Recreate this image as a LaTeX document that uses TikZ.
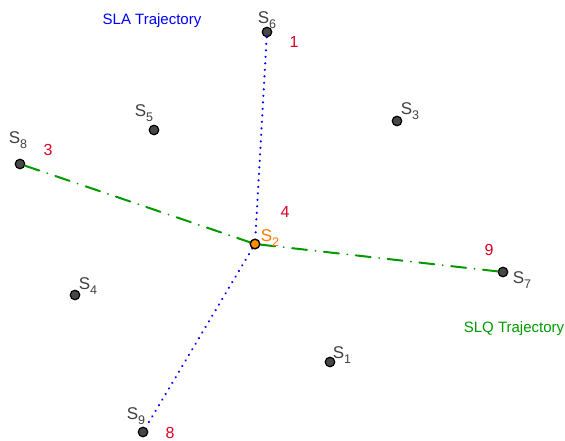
\documentclass[tikz,border=0pt]{standalone}
\usepackage{fontspec}
\setmainfont{Liberation Sans}
\newcommand{\st}[1]{S\raisebox{-0.55ex}{\fontsize{12.5}{13}\selectfont #1}}
\begin{document}
\begin{tikzpicture}[x=1pt,y=-1pt,
  station/.style={circle,draw=black,fill=black!72,line width=1.2pt,inner sep=0pt,minimum size=9.5pt},
  hub/.style={station,fill=orange!90!yellow},
  slabel/.style={text=black!75,font=\fontsize{17}{19}\selectfont,inner sep=0pt},
  order/.style={text=red!85!blue,font=\fontsize{16}{18}\selectfont,inner sep=0pt},
  slapath/.style={blue,line width=2.4pt,dash pattern=on 0.01pt off 6.5pt,line cap=round},
  slqpath/.style={green!60!black,line width=2pt,dash pattern=on 15pt off 8.5pt on 0.01pt off 8.5pt,line cap=round}]
\useasboundingbox (0,0) rectangle (565,441);
% stations
\node[station] (s1) at (330,362) {};
\node[hub]     (s2) at (255,244) {};
\node[station] (s3) at (397,121) {};
\node[station] (s4) at (75,295) {};
\node[station] (s5) at (154,130) {};
\node[station] (s6) at (267,32) {};
\node[station] (s7) at (503,272) {};
\node[station] (s8) at (20,164) {};
\node[station] (s9) at (143,432) {};
% trajectories
\draw[slapath] (s6) -- (s2) -- (s9);
\draw[slqpath] (s8) -- (s2) -- (s7);
\node[hub] at (s2) {};
% station labels
\node[slabel] (l1) at (342,355) {\st{1}};
\node[slabel,text=orange!95!red] (l2) at (270,238) {\st{2}};
\node[slabel] (l3) at (410,111) {\st{3}};
\node[slabel] (l4) at (88,286) {\st{4}};
\node[slabel] (l5) at (144,113) {\st{5}};
\node[slabel] (l6) at (267,20) {\st{6}};
\node[slabel] (l7) at (522,280) {\st{7}};
\node[slabel] (l8) at (18,140) {\st{8}};
\node[slabel] (l9) at (136,416) {\st{9}};
% visiting order
\node[order] (n1) at (294,42) {1};
\node[order] (n3) at (48,150) {3};
\node[order] (n4) at (285,212) {4};
\node[order] (n9) at (489,250) {9};
\node[order] (n8) at (170,433) {8};
% trajectory names
\node[text=blue,font=\fontsize{15}{17}\selectfont] (tsla) at (152,21) {SLA Trajectory};
\node[text=green!60!black,font=\fontsize{15}{17}\selectfont] (tslq) at (514,329) {SLQ Trajectory};
\end{tikzpicture}
\end{document}
